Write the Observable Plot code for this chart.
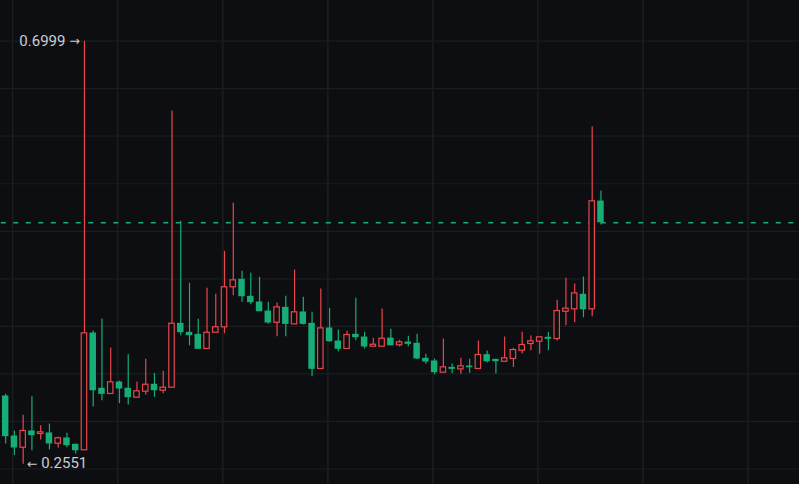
<!DOCTYPE html>
<html>
<head>
<meta charset="utf-8">
<script src="https://cdn.jsdelivr.net/npm/d3@7"></script>
<script src="https://cdn.jsdelivr.net/npm/@observablehq/plot@0.6"></script>
<style>
html,body{margin:0;padding:0;background:#0d0e11;overflow:hidden}
svg{display:block}
</style>
</head>
<body>
<div id="chart"></div>
<script>
const opens = [.3268,.2847,.2724,.2900,.2868,.2879,.2766,.2826,.2760,.2697,.3930,.3349,.3289,.3415,.3349,.3250,.3313,.3391,.3323,.3355,.4032,.3937,.3916,.3762,.3933,.3990,.4411,.4495,.4316,.4256,.4161,.4038,.4200,.4021,.4151,.4032,.3552,.3983,.3846,.3762,.3916,.3888,.3786,.3786,.3877,.3801,.3835,.3822,.3664,.3636,.3513,.3569,.3548,.3583,.3552,.3702,.3653,.3628,.3657,.3744,.3814,.3839,.3885,.3867,.4154,.4179,.4337,.4179,.5318];
const closes = [.2840,.2721,.2900,.2850,.2886,.2763,.2823,.2745,.2692,.3927,.3323,.3285,.3412,.3341,.3250,.3317,.3386,.3323,.3355,.4028,.3933,.3902,.3759,.3933,.3990,.4411,.4484,.4312,.4249,.4154,.4035,.4200,.4021,.4148,.4021,.3548,.3979,.3839,.3759,.3909,.3881,.3783,.3807,.3870,.3796,.3832,.3811,.3657,.3625,.3513,.3569,.3548,.3580,.3565,.3699,.3628,.3628,.3664,.3751,.3804,.3843,.3885,.3864,.4161,.4186,.4347,.4175,.5315,.5090];
const highs = [.3285,.2900,.3065,.3260,.2955,.2973,.2836,.2875,.2760,.6999,.3951,.4077,.3772,.3425,.3702,.3415,.3653,.3506,.3527,.6264,.5105,.4453,.4074,.4400,.4337,.4789,.5294,.4579,.4558,.4516,.4253,.4245,.4316,.4592,.4305,.4148,.4393,.4190,.3962,.3948,.4295,.3937,.3874,.4182,.3969,.3853,.3895,.3916,.3706,.3657,.3867,.3604,.3664,.3653,.3846,.3741,.3653,.3888,.3769,.3937,.3899,.3885,.3937,.4274,.4505,.4445,.4519,.6096,.5423];
const lows = [.2763,.2640,.2551,.2692,.2805,.2700,.2721,.2724,.2658,.2697,.3152,.3218,.3289,.3187,.3173,.3250,.3278,.3254,.3292,.3355,.3902,.3796,.3759,.3762,.3933,.3923,.4322,.4253,.4228,.4154,.4021,.3891,.3891,.4021,.4014,.3471,.3552,.3832,.3733,.3762,.3849,.3762,.3786,.3786,.3796,.3783,.3786,.3649,.3601,.3492,.3513,.3502,.3496,.3506,.3552,.3615,.3499,.3628,.3567,.3709,.3744,.3706,.3744,.3846,.4007,.4038,.4091,.4101,.5066];
const gridPrices = [.25,.30,.35,.40,.45,.50,.55,.60,.65,.70];
const gridSlots = [.8,12.8,24.8,36.8,48.8,60.8,72.8,84.8];
const highText = "0.6999";
const lowText = "0.2551";
const rightArrow = "→";
const leftArrow = "←";
const highLabelPrice = .6999;
const lowLabelPrice = .2551;
const highLabelSlot = 9;
const lowLabelSlot = 2;
const lastPrice = closes[closes.length - 1];

const RED = "#e8474c", GREEN = "#17ad76", BG = "#0d0e11", GRID = "#1c1d20", LABEL = "#c8ccd4";
const candles = opens.map((o, i) => ({i, o, c: closes[i], h: highs[i], l: lows[i], up: closes[i] > o}));
const upC = candles.filter(d => d.up);
const downC = candles.filter(d => !d.up);
const halfBody = 0.31;

const chart = Plot.plot({
  width: 799, height: 484,
  marginTop: 0, marginRight: 0, marginBottom: 0, marginLeft: 0,
  style: {background: BG, fontFamily: "Roboto, sans-serif"},
  x: {domain: [-0.59, 90.68], axis: null},
  y: {domain: [0.2337, 0.7427], axis: null},
  marks: [
    Plot.ruleY(gridPrices, {stroke: GRID, strokeWidth: 1.2}),
    Plot.ruleX(gridSlots, {stroke: GRID, strokeWidth: 1.6}),
    Plot.ruleY([lastPrice], {stroke: GREEN, strokeWidth: 1.5, strokeDasharray: "5,7.5", strokeDashoffset: -0.8}),
    Plot.ruleX(upC, {x: "i", y1: "l", y2: "h", stroke: RED, strokeWidth: 1.2}),
    Plot.ruleX(downC, {x: "i", y1: "l", y2: "h", stroke: GREEN, strokeWidth: 1.2}),
    Plot.rect(upC, {x1: d => d.i - halfBody, x2: d => d.i + halfBody, y1: "o", y2: "c", fill: BG, stroke: RED, strokeWidth: 1.2}),
    Plot.rect(downC, {x1: d => d.i - 0.37, x2: d => d.i + 0.37, y1: "o", y2: "c", fill: GREEN}),
    Plot.text([highText], {x: highLabelSlot, y: highLabelPrice, text: d => d, textAnchor: "end", dx: -19, dy: 0, fill: LABEL, fontSize: 15}),
    Plot.text([rightArrow], {x: highLabelSlot, y: highLabelPrice, text: d => d, textAnchor: "end", dx: -4.5, dy: 0, fill: LABEL, fontSize: 12.5, fontFamily: "DejaVu Sans"}),
    Plot.text([leftArrow], {x: lowLabelSlot, y: lowLabelPrice, text: d => d, textAnchor: "start", dx: 3.5, dy: 0, fill: LABEL, fontSize: 12.5, fontFamily: "DejaVu Sans"}),
    Plot.text([lowText], {x: lowLabelSlot, y: lowLabelPrice, text: d => d, textAnchor: "start", dx: 18, dy: -1, fill: LABEL, fontSize: 15})
  ]
});
document.getElementById("chart").append(chart);
</script>
</body>
</html>
